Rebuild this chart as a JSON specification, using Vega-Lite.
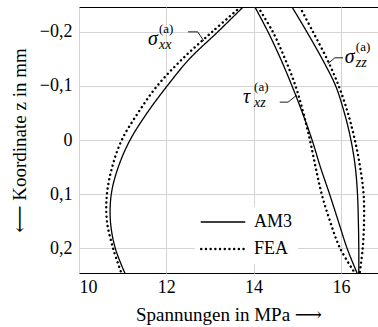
{
  "$schema": "https://vega.github.io/schema/vega-lite/v6.json",
  "width": 299,
  "height": 266,
  "autosize": "none",
  "padding": {"left": 79, "top": 7, "right": 0, "bottom": 54},
  "background": "white",
  "config": {
    "view": {"stroke": "black", "strokeWidth": 1},
    "font": "Times New Roman, Liberation Serif, DejaVu Serif, serif",
    "axis": {
      "gridColor": "#d4d4d4",
      "gridWidth": 1,
      "ticks": false,
      "domain": false,
      "labelFont": "Times New Roman, Liberation Serif, DejaVu Serif, serif",
      "labelFontSize": 18,
      "labelColor": "black",
      "titleFont": "Times New Roman, Liberation Serif, DejaVu Serif, serif",
      "titleFontSize": 19,
      "titleFontWeight": "normal",
      "titleColor": "black"
    },
    "legend": {
      "labelFont": "Times New Roman, Liberation Serif, DejaVu Serif, serif",
      "labelFontSize": 18,
      "labelColor": "black"
    }
  },
  "datasets": {
    "curves": [
      {"curve": "sxx", "method": "AM3", "z": -0.246, "s": 13.76},
      {"curve": "sxx", "method": "AM3", "z": -0.2, "s": 13.18},
      {"curve": "sxx", "method": "AM3", "z": -0.15, "s": 12.53},
      {"curve": "sxx", "method": "AM3", "z": -0.1, "s": 12.02},
      {"curve": "sxx", "method": "AM3", "z": -0.05, "s": 11.56},
      {"curve": "sxx", "method": "AM3", "z": 0, "s": 11.17},
      {"curve": "sxx", "method": "AM3", "z": 0.05, "s": 10.9},
      {"curve": "sxx", "method": "AM3", "z": 0.1, "s": 10.74},
      {"curve": "sxx", "method": "AM3", "z": 0.15, "s": 10.72},
      {"curve": "sxx", "method": "AM3", "z": 0.2, "s": 10.83},
      {"curve": "sxx", "method": "AM3", "z": 0.246, "s": 11.05},
      {"curve": "sxx", "method": "FEA", "z": -0.246, "s": 13.7},
      {"curve": "sxx", "method": "FEA", "z": -0.2, "s": 13.05},
      {"curve": "sxx", "method": "FEA", "z": -0.15, "s": 12.37},
      {"curve": "sxx", "method": "FEA", "z": -0.1, "s": 11.79},
      {"curve": "sxx", "method": "FEA", "z": -0.05, "s": 11.35},
      {"curve": "sxx", "method": "FEA", "z": 0, "s": 10.98},
      {"curve": "sxx", "method": "FEA", "z": 0.05, "s": 10.76},
      {"curve": "sxx", "method": "FEA", "z": 0.1, "s": 10.64},
      {"curve": "sxx", "method": "FEA", "z": 0.15, "s": 10.64},
      {"curve": "sxx", "method": "FEA", "z": 0.2, "s": 10.78},
      {"curve": "sxx", "method": "FEA", "z": 0.246, "s": 10.97},
      {"curve": "txz", "method": "AM3", "z": -0.246, "s": 14.03},
      {"curve": "txz", "method": "AM3", "z": -0.2, "s": 14.33},
      {"curve": "txz", "method": "AM3", "z": -0.15, "s": 14.62},
      {"curve": "txz", "method": "AM3", "z": -0.1, "s": 14.88},
      {"curve": "txz", "method": "AM3", "z": -0.05, "s": 15.12},
      {"curve": "txz", "method": "AM3", "z": 0, "s": 15.34},
      {"curve": "txz", "method": "AM3", "z": 0.05, "s": 15.53},
      {"curve": "txz", "method": "AM3", "z": 0.1, "s": 15.74},
      {"curve": "txz", "method": "AM3", "z": 0.15, "s": 15.94},
      {"curve": "txz", "method": "AM3", "z": 0.2, "s": 16.14},
      {"curve": "txz", "method": "AM3", "z": 0.246, "s": 16.37},
      {"curve": "txz", "method": "FEA", "z": -0.246, "s": 14.1},
      {"curve": "txz", "method": "FEA", "z": -0.2, "s": 14.44},
      {"curve": "txz", "method": "FEA", "z": -0.15, "s": 14.72},
      {"curve": "txz", "method": "FEA", "z": -0.1, "s": 14.96},
      {"curve": "txz", "method": "FEA", "z": -0.05, "s": 15.14},
      {"curve": "txz", "method": "FEA", "z": 0, "s": 15.29},
      {"curve": "txz", "method": "FEA", "z": 0.05, "s": 15.42},
      {"curve": "txz", "method": "FEA", "z": 0.1, "s": 15.56},
      {"curve": "txz", "method": "FEA", "z": 0.15, "s": 15.75},
      {"curve": "txz", "method": "FEA", "z": 0.2, "s": 15.98},
      {"curve": "txz", "method": "FEA", "z": 0.246, "s": 16.32},
      {"curve": "szz", "method": "AM3", "z": -0.246, "s": 14.88},
      {"curve": "szz", "method": "AM3", "z": -0.2, "s": 15.22},
      {"curve": "szz", "method": "AM3", "z": -0.15, "s": 15.57},
      {"curve": "szz", "method": "AM3", "z": -0.1, "s": 15.88},
      {"curve": "szz", "method": "AM3", "z": -0.05, "s": 16.08},
      {"curve": "szz", "method": "AM3", "z": 0, "s": 16.23},
      {"curve": "szz", "method": "AM3", "z": 0.05, "s": 16.33},
      {"curve": "szz", "method": "AM3", "z": 0.1, "s": 16.38},
      {"curve": "szz", "method": "AM3", "z": 0.15, "s": 16.4},
      {"curve": "szz", "method": "AM3", "z": 0.2, "s": 16.41},
      {"curve": "szz", "method": "AM3", "z": 0.246, "s": 16.41},
      {"curve": "szz", "method": "FEA", "z": -0.246, "s": 15.06},
      {"curve": "szz", "method": "FEA", "z": -0.2, "s": 15.36},
      {"curve": "szz", "method": "FEA", "z": -0.15, "s": 15.68},
      {"curve": "szz", "method": "FEA", "z": -0.1, "s": 15.95},
      {"curve": "szz", "method": "FEA", "z": -0.05, "s": 16.16},
      {"curve": "szz", "method": "FEA", "z": 0, "s": 16.32},
      {"curve": "szz", "method": "FEA", "z": 0.05, "s": 16.44},
      {"curve": "szz", "method": "FEA", "z": 0.1, "s": 16.52},
      {"curve": "szz", "method": "FEA", "z": 0.15, "s": 16.53},
      {"curve": "szz", "method": "FEA", "z": 0.2, "s": 16.5},
      {"curve": "szz", "method": "FEA", "z": 0.246, "s": 16.43}
    ],
    "labels": [
      {"lab": "sxx", "base": "σ", "sup": "(a)", "sub": "xx", "s": 11.58, "z": -0.176},
      {"lab": "txz", "base": "τ", "sup": "(a)", "sub": "xz", "s": 13.76, "z": -0.069},
      {"lab": "szz", "base": "σ", "sup": "(a)", "sub": "zz", "s": 16.09, "z": -0.143}
    ],
    "leaders": [
      {"lab": "sxx", "i": 0, "s": 12.5, "z": -0.2},
      {"lab": "sxx", "i": 1, "s": 12.72, "z": -0.2},
      {"lab": "sxx", "i": 2, "s": 12.86, "z": -0.183},
      {"lab": "txz", "i": 0, "s": 14.6, "z": -0.07},
      {"lab": "txz", "i": 1, "s": 14.79, "z": -0.07},
      {"lab": "txz", "i": 2, "s": 14.99, "z": -0.083},
      {"lab": "szz", "i": 0, "s": 16.05, "z": -0.152},
      {"lab": "szz", "i": 1, "s": 15.86, "z": -0.152},
      {"lab": "szz", "i": 2, "s": 15.7, "z": -0.141}
    ]
  },
  "layer": [
    {
      "data": {"name": "curves"},
      "mark": {"type": "line", "interpolate": "catmull-rom", "color": "black", "strokeCap": "round", "clip": true},
      "encoding": {
        "x": {
          "field": "s", "type": "quantitative",
          "scale": {"domain": [10, 16.85], "nice": false, "zero": false},
          "axis": {"values": [10, 12, 14, 16], "labelPadding": 5, "titlePadding": 9},
          "title": "Spannungen in MPa   ⟶"
        },
        "y": {
          "field": "z", "type": "quantitative",
          "scale": {"domain": [-0.246, 0.246], "nice": false, "zero": false, "reverse": true},
          "axis": {
            "values": [-0.2, -0.1, 0, 0.1, 0.2],
            "labelPadding": 7,
            "titlePadding": 10,
            "labelExpr": "datum.value == 0 ? '0' : replace(format(datum.value, '.1f'), '.', ',')"
          },
          "title": "⟵    Koordinate z in mm"
        },
        "detail": {"field": "curve"},
        "order": {"field": "z"},
        "strokeDash": {
          "field": "method", "type": "nominal",
          "scale": {"domain": ["AM3", "FEA"], "range": [[1, 0], [0.1, 4.6]]},
          "legend": {
            "title": null,
            "orient": "none",
            "legendX": 116,
            "legendY": 200,
            "fillColor": "white",
            "padding": 5,
            "symbolType": "stroke",
            "symbolSize": 1900,
            "symbolStrokeColor": "black",
            "clipHeight": 20,
            "labelOffset": 8,
            "rowPadding": 7,
            "labelFontSize": 18,
            "encode": {"symbols": {"update": {"strokeCap": {"value": "round"}}}}
          }
        },
        "strokeWidth": {
          "field": "method", "type": "nominal",
          "scale": {"domain": ["AM3", "FEA"], "range": [1.3, 2.4]},
          "legend": null
        }
      }
    },
    {
      "mark": {"type": "rule", "color": "black", "strokeWidth": 1},
      "encoding": {"y": {"datum": 0, "type": "quantitative"}}
    },
    {
      "data": {"name": "leaders"},
      "mark": {"type": "line", "color": "black", "strokeWidth": 0.9},
      "encoding": {
        "x": {"field": "s", "type": "quantitative", "title": "Spannungen in MPa   ⟶"},
        "y": {"field": "z", "type": "quantitative", "title": "⟵    Koordinate z in mm"},
        "detail": {"field": "lab"},
        "order": {"field": "i"}
      }
    },
    {
      "data": {"name": "labels"},
      "mark": {"type": "text", "align": "left", "baseline": "alphabetic", "font": "Times New Roman, Liberation Serif, DejaVu Serif, serif", "fontStyle": "italic", "fontSize": 20, "color": "black"},
      "encoding": {
        "x": {"field": "s", "type": "quantitative", "title": "Spannungen in MPa   ⟶"},
        "y": {"field": "z", "type": "quantitative", "title": "⟵    Koordinate z in mm"},
        "text": {"field": "base"}
      }
    },
    {
      "data": {"name": "labels"},
      "mark": {"type": "text", "align": "left", "baseline": "alphabetic", "font": "Times New Roman, Liberation Serif, DejaVu Serif, serif", "fontSize": 13, "dx": 11, "dy": -12, "color": "black"},
      "encoding": {
        "x": {"field": "s", "type": "quantitative", "title": "Spannungen in MPa   ⟶"},
        "y": {"field": "z", "type": "quantitative", "title": "⟵    Koordinate z in mm"},
        "text": {"field": "sup"}
      }
    },
    {
      "data": {"name": "labels"},
      "mark": {"type": "text", "align": "left", "baseline": "alphabetic", "font": "Times New Roman, Liberation Serif, DejaVu Serif, serif", "fontStyle": "italic", "fontSize": 14, "dx": 11, "dy": 4, "color": "black"},
      "encoding": {
        "x": {"field": "s", "type": "quantitative", "title": "Spannungen in MPa   ⟶"},
        "y": {"field": "z", "type": "quantitative", "title": "⟵    Koordinate z in mm"},
        "text": {"field": "sub"}
      }
    }
  ]
}
